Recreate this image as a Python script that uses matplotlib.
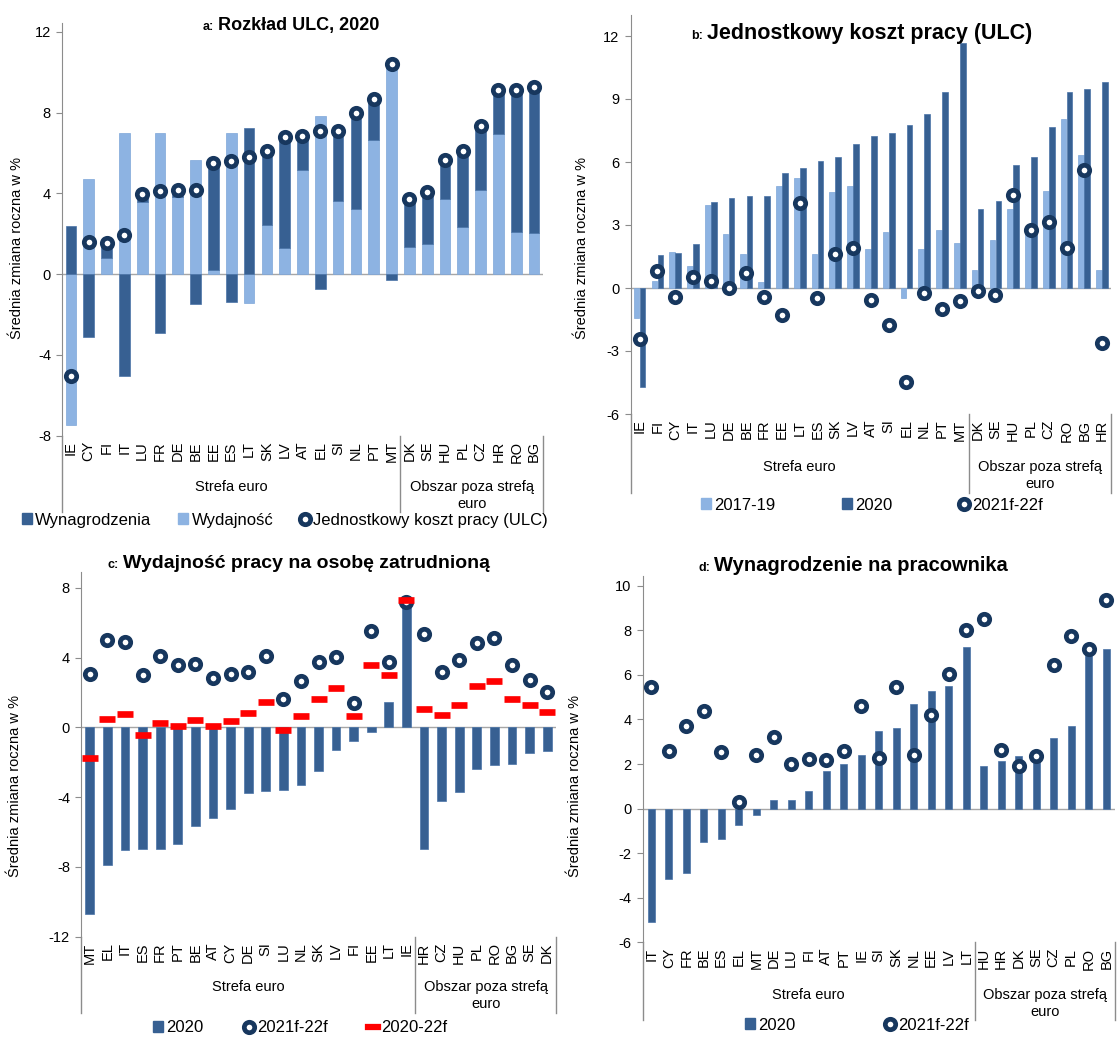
import matplotlib
matplotlib.use('Agg')
import matplotlib.pyplot as plt
import numpy as np
from matplotlib.lines import Line2D
from matplotlib.patches import Patch

plt.rcParams['font.family'] = ['Liberation Sans', 'DejaVu Sans']

W, H = 1120, 1039
DARK = '#376092'
LIGHT = '#8DB3E2'
NAVY = '#17375E'
RED = '#FF0000'
GRAY = '#8C8C8C'

# --- panel a: Rozkład ULC, 2020
a_countries = ['IE', 'CY', 'FI', 'IT', 'LU', 'FR', 'DE', 'BE', 'EE', 'ES', 'LT', 'SK', 'LV', 'AT',
               'EL', 'SI', 'NL', 'PT', 'MT', 'DK', 'SE', 'HU', 'PL', 'CZ', 'HR', 'RO', 'BG']
a_wages = [2.4, -3.1, 0.8, -5.05, 0.4, -2.9, 0.35, -1.5, 5.3, -1.4, 7.25, 3.6, 5.5, 1.7,
           -0.75, 3.5, 4.75, 2.05, -0.3, 2.35, 2.55, 1.95, 3.75, 3.2, 2.15, 7.0, 7.2]
a_prod = [-7.5, 4.7, 0.8, 7.0, 3.55, 7.0, 3.8, 5.65, 0.2, 7.0, -1.45, 2.45, 1.3, 5.15,
          7.85, 3.6, 3.25, 6.65, 10.5, 1.35, 1.5, 3.7, 2.35, 4.15, 6.95, 2.1, 2.05]
a_ulc = [-5.05, 1.6, 1.55, 1.95, 3.95, 4.1, 4.15, 4.15, 5.5, 5.6, 5.8, 6.1, 6.8, 6.85,
         7.1, 7.1, 8.0, 8.7, 10.4, 3.7, 4.05, 5.65, 6.1, 7.35, 9.1, 9.1, 9.25]

# --- panel b: Jednostkowy koszt pracy (ULC)
b_countries = ['IE', 'FI', 'CY', 'IT', 'LU', 'DE', 'BE', 'FR', 'EE', 'LT', 'ES', 'SK', 'LV', 'AT',
               'SI', 'EL', 'NL', 'PT', 'MT', 'DK', 'SE', 'HU', 'PL', 'CZ', 'RO', 'BG', 'HR']
b_1719 = [-1.45, 0.35, 1.7, 1.05, 3.95, 2.55, 1.6, 0.27, 4.85, 5.25, 1.6, 4.55, 4.85, 1.85,
          2.65, -0.47, 1.88, 2.75, 2.12, 0.85, 2.3, 3.75, 2.6, 4.6, 8.05, 6.35, 0.88]
b_2020 = [-4.72, 1.57, 1.65, 2.08, 4.08, 4.28, 4.4, 4.4, 5.5, 5.7, 6.05, 6.23, 6.86, 7.25,
          7.4, 7.75, 8.28, 9.32, 11.65, 3.75, 4.12, 5.87, 6.25, 7.68, 9.32, 9.47, 9.82]
b_2122 = [-2.44, 0.82, -0.41, 0.52, 0.35, 0.0, 0.71, -0.41, -1.28, 4.07, -0.47, 1.62, 1.92, -0.58,
          -1.74, -4.47, -0.22, -0.99, -0.63, -0.12, -0.31, 4.45, 2.76, 3.16, 1.9, 5.62, -2.6]

# --- panel c: Wydajność pracy na osobę zatrudnioną
c_countries = ['MT', 'EL', 'IT', 'ES', 'FR', 'PT', 'BE', 'AT', 'CY', 'DE', 'SI', 'LU', 'NL', 'SK',
               'LV', 'FI', 'EE', 'LT', 'IE', 'HR', 'CZ', 'HU', 'PL', 'RO', 'BG', 'SE', 'DK']
c_2020 = [-10.7, -7.87, -7.0, -6.98, -6.98, -6.69, -5.64, -5.2, -4.68, -3.77, -3.67, -3.56, -3.3, -2.5,
          -1.32, -0.8, -0.25, 1.46, 7.3, -6.98, -4.19, -3.73, -2.39, -2.16, -2.1, -1.49, -1.36]
c_2122 = [3.06, 4.99, 4.92, 3.02, 4.11, 3.6, 3.62, 2.83, 3.06, 3.2, 4.08, 1.61, 2.66, 3.73,
          4.02, 1.4, 5.51, 3.77, 7.2, 5.36, 3.2, 3.85, 4.86, 5.11, 3.56, 2.7, 2.03]
c_2022 = [-1.76, 0.5, 0.77, -0.42, 0.27, 0.06, 0.44, 0.08, 0.38, 0.8, 1.46, -0.13, 0.63, 1.63,
          2.24, 0.63, 3.58, 3.0, 7.29, 1.07, 0.69, 1.28, 2.35, 2.64, 1.63, 1.28, 0.88]

# --- panel d: Wynagrodzenie na pracownika
d_countries = ['IT', 'CY', 'FR', 'BE', 'ES', 'EL', 'MT', 'DE', 'LU', 'FI', 'AT', 'PT', 'IE', 'SI',
               'SK', 'NL', 'EE', 'LV', 'LT', 'HU', 'HR', 'DK', 'SE', 'CZ', 'PL', 'RO', 'BG']
d_2020 = [-5.1, -3.15, -2.9, -1.48, -1.38, -0.75, -0.29, 0.37, 0.4, 0.78, 1.68, 1.99, 2.4, 3.5,
          3.6, 4.7, 5.27, 5.51, 7.26, 1.93, 2.13, 2.35, 2.3, 3.18, 3.7, 7.16, 7.18]
d_2122 = [5.45, 2.6, 3.7, 4.37, 2.56, 0.3, 2.4, 3.22, 1.99, 2.22, 2.2, 2.58, 4.61, 2.28,
          5.45, 2.4, 4.19, 6.05, 8.01, 8.52, 2.64, 1.93, 2.37, 6.44, 7.73, 7.16, 9.35]

N_EURO = 19
YLABEL = 'Średnia zmiana roczna w %'

fig = plt.figure(figsize=(W / 100, H / 100), dpi=100)


def fx(px):
    return px / W


def fy(py):
    return 1 - py / H


def make_axes(box, ylim, yticks, labels, y_group, y_lines):
    left, top, right, bottom = box
    ax = fig.add_axes([fx(left), fy(bottom), (right - left) / W, (bottom - top) / H])
    n = len(labels)
    ax.set_xlim(-0.5, n - 0.5)
    ax.set_ylim(*ylim)
    ax.set_yticks(yticks)
    ax.set_yticklabels([str(t) for t in yticks], fontsize=10.5)
    ax.set_xticks(range(n))
    ax.set_xticklabels(labels, rotation=90, fontsize=10.5)
    ax.tick_params(axis='x', length=0, pad=4)
    ax.tick_params(axis='y', length=4, width=0.8, color=GRAY, pad=4)
    for s in ['top', 'right', 'bottom']:
        ax.spines[s].set_visible(False)
    ax.spines['left'].set_color(GRAY)
    ax.axhline(0, color='#A6A6A6', lw=1, zorder=1)
    h = bottom - top
    tr = ax.get_xaxis_transform()
    for x in [-0.5, N_EURO - 0.5, n - 0.5]:
        ax.plot([x, x], [0, -(y_lines - bottom) / h], transform=tr, color=GRAY, lw=1,
                clip_on=False)
    ax.text((N_EURO - 1) / 2, -(y_group - bottom) / h, 'Strefa euro', transform=tr,
            ha='center', va='center', fontsize=10.5)
    ax.text((N_EURO + n - 1) / 2, -(y_group - bottom) / h, 'Obszar poza strefą', transform=tr,
            ha='center', va='center', fontsize=10.5)
    ax.text((N_EURO + n - 1) / 2, -(y_group + 17 - bottom) / h, 'euro', transform=tr,
            ha='center', va='center', fontsize=10.5)
    return ax


def title(x_split, y_base, small, big, size):
    fig.text(fx(x_split - 2), fy(y_base), small, ha='right', va='baseline', fontsize=9,
             fontweight='bold')
    fig.text(fx(x_split + 2), fy(y_base), big, ha='left', va='baseline', fontsize=size,
             fontweight='bold')


def ylabel(x, y):
    fig.text(fx(x), fy(y), YLABEL, rotation=90, ha='center', va='center', fontsize=10.5)


def dots(ax, x, y):
    ax.plot(x, y, ls='none', marker='o', ms=7.5, mew=3.4, mec=NAVY, mfc='white', zorder=5,
            clip_on=False)


def ring_handle(label):
    return Line2D([], [], ls='none', marker='o', ms=7.5, mew=3.4, mec=NAVY, mfc='white',
                  label=label)


def legend(ax, handles, cx, cy, spacing):
    ax.legend(handles=handles, loc='center', bbox_to_anchor=(fx(cx), fy(cy)),
              bbox_transform=fig.transFigure, ncol=len(handles), frameon=False, fontsize=12,
              handlelength=0.6, handleheight=0.6, handletextpad=0.2, columnspacing=spacing,
              borderaxespad=0, borderpad=0)


# ---------- a
ax = make_axes((62, 22.7, 543, 435.5), (-8, 12.46), [-8, -4, 0, 4, 8, 12], a_countries, 487, 512)
xa = np.arange(len(a_countries))
wages = np.array(a_wages)
prod = np.array(a_prod)
ax.bar(xa, prod, width=0.6, color=LIGHT, edgecolor='#7EA6D8', lw=0.5, zorder=2)
ax.bar(xa, wages, width=0.6, bottom=np.where(wages >= 0, np.maximum(prod, 0), 0), color=DARK,
       edgecolor='#4A74A8', lw=0.5, zorder=2)
dots(ax, xa, a_ulc)
title(216, 30, 'a:', 'Rozkład ULC, 2020', 13)
ylabel(17, 248)
legend(ax, [Patch(color=DARK, label='Wynagrodzenia'), Patch(color=LIGHT, label='Wydajność'),
            ring_handle('Jednostkowy koszt pracy (ULC)')], 285, 520, 1.6)

# ---------- b
ax = make_axes((630.7, 15, 1111, 414), (-6, 13), [-6, -3, 0, 3, 6, 9, 12], b_countries, 467, 493)
xb = np.arange(len(b_countries))
ax.bar(xb - 0.17, b_1719, width=0.32, color=LIGHT, edgecolor='#7EA6D8', lw=0.5, zorder=2)
ax.bar(xb + 0.17, b_2020, width=0.32, color=DARK, edgecolor='#4A74A8', lw=0.5, zorder=2)
dots(ax, xb, b_2122)
title(705, 39, 'b:', 'Jednostkowy koszt pracy (ULC)', 15.5)
ylabel(582, 248)
legend(ax, [Patch(color=LIGHT, label='2017-19'), Patch(color=DARK, label='2020'),
            ring_handle('2021f-22f')], 872, 505, 4)

# ---------- c
ax = make_axes((81, 571.7, 556, 936.7), (-12, 8.93), [-12, -8, -4, 0, 4, 8], c_countries, 987, 1013)
xc = np.arange(len(c_countries))
ax.bar(xc, c_2020, width=0.5, color=DARK, edgecolor='#4A74A8', lw=0.5, zorder=2)
dots(ax, xc, c_2122)
ax.plot(xc, c_2022, ls='none', marker='_', ms=11, mew=4.8, color=RED, zorder=6)
title(121, 568, 'c:', 'Wydajność pracy na osobę zatrudnioną', 14)
ylabel(15, 786)
legend(ax, [Patch(color=DARK, label='2020'), ring_handle('2021f-22f'),
            Line2D([], [], color=RED, lw=4.5, label='2020-22f')], 300, 1028, 2.4)

# ---------- d
ax = make_axes((642.5, 576, 1115, 942.3), (-6, 10.44), [-6, -4, -2, 0, 2, 4, 6, 8, 10],
               d_countries, 995, 1020)
xd = np.arange(len(d_countries))
ax.bar(xd, d_2020, width=0.4, color=DARK, edgecolor='#4A74A8', lw=0.5, zorder=2)
dots(ax, xd, d_2122)
title(712, 571, 'd:', 'Wynagrodzenie na pracownika', 14.5)
ylabel(575, 786)
legend(ax, [Patch(color=DARK, label='2020'), ring_handle('2021f-22f')], 857, 1025, 5.4)

fig.savefig('out.png', dpi=100)
